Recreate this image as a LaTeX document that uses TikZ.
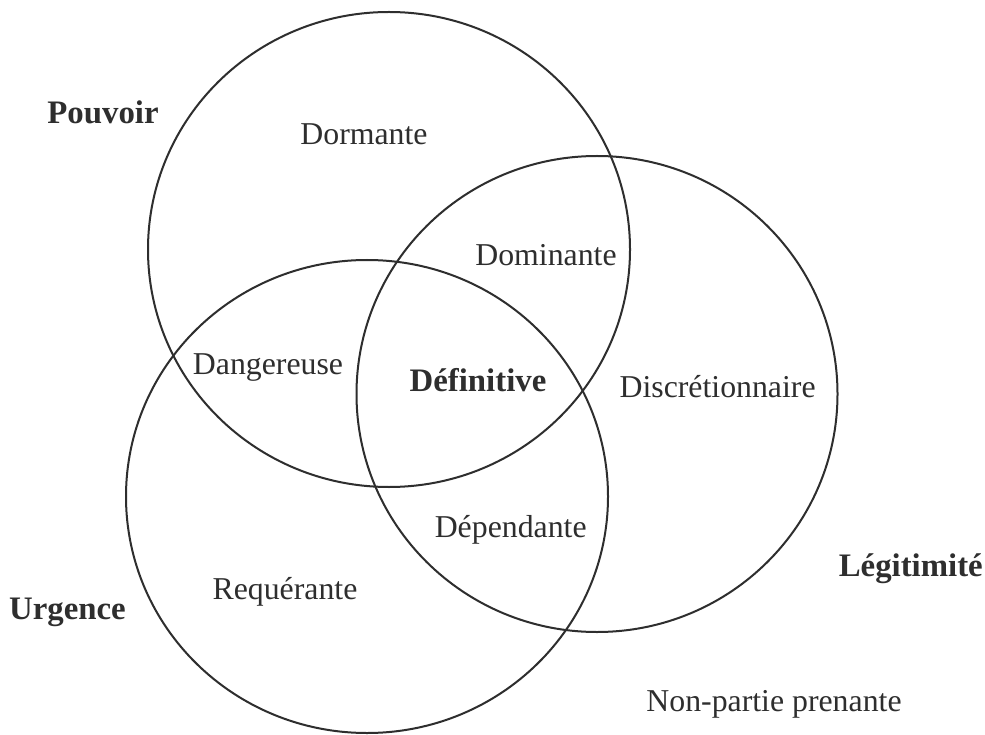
\documentclass[tikz,border=0pt]{standalone}
\usepackage{fontspec}
\setmainfont{Liberation Serif}
\definecolor{ink}{HTML}{2E2E2E}
\begin{document}
\begin{tikzpicture}[x=1pt,y=-1pt,
  ring/.style={draw=ink,line width=2pt},
  lbl/.style={anchor=base,inner sep=0pt,text=ink,font=\fontsize{31.8}{38}\selectfont},
  head/.style={anchor=base,inner sep=0pt,text=ink,font=\fontsize{32.8}{39}\selectfont\bfseries}]
\useasboundingbox (0,0) rectangle (985,735);
\fill[white] (0,0) rectangle (985,735);
% circles
\draw[ring] (389,249.5) ellipse [x radius=241, y radius=237.5];
\draw[ring] (597,394) ellipse [x radius=240.5, y radius=238];
\draw[ring] (367,496.5) ellipse [x radius=241, y radius=236.5];
% set labels
\node[head] (pouvoir) at (103,123.3) {Pouvoir};
\node[head] (legit) at (910.8,576.6) {Légitimité};
\node[head] (urgence) at (67.5,619) {Urgence};
% regions
\node[lbl] (dormante) at (364,145) {Dormante};
\node[lbl] (dominante) at (546,266) {Dominante};
\node[lbl] (dangereuse) at (268,374) {Dangereuse};
\node[head] (definitive) at (478,391.5) {Définitive};
\node[lbl] (discret) at (717.6,397.5) {Discrétionnaire};
\node[lbl] (dependante) at (510.7,537.7) {Dépendante};
\node[lbl] (requerante) at (285,599) {Requérante};
\node[lbl] (nonpartie) at (774,711.7) {Non-partie prenante};
\end{tikzpicture}
\end{document}
